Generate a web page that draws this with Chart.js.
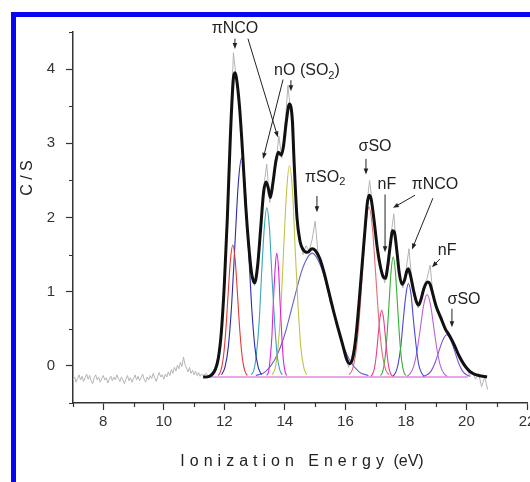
<!DOCTYPE html>
<html>
<head>
<meta charset="utf-8">
<script src="https://cdn.jsdelivr.net/npm/chart.js@4.4.0/dist/chart.umd.min.js"></script>
<style>
html, body { margin: 0; padding: 0; background: #fff; overflow: hidden; }
#wrap { position: relative; width: 530px; height: 482px; overflow: hidden; }
#frame { position: absolute; left: 11px; top: 12px; width: 600px; height: 600px;
         border-left: 5px solid #0606f2; border-top: 5px solid #0606f2; }
#chart { position: absolute; left: 0; top: 0; }
</style>
</head>
<body>
<div id="wrap"><div id="frame"></div><canvas id="chart" width="545" height="482"></canvas></div>
<script>
// axis ranges / tick labels
var xMin = 7, xMax = 22, yMin = -0.5, yMax = 4.5;
var xLabelTicks = [8, 10, 12, 14, 16, 18, 20, 22];
var yLabelTicks = [0, 1, 2, 3, 4];

// raw spectrum (grey), two sampling grids
var rawLowStart = 7.0, rawLowStep = 0.05;
var rawLowCS = [
  -0.20, -0.15, -0.22, -0.17, -0.12, -0.19, -0.14, -0.21, -0.16, -0.11,
  -0.18, -0.13, -0.20, -0.24, -0.16, -0.12, -0.19, -0.15, -0.22, -0.17,
  -0.13, -0.19, -0.16, -0.23, -0.18, -0.14, -0.20, -0.15, -0.19, -0.12,
  -0.17, -0.21, -0.15, -0.19, -0.24, -0.18, -0.13, -0.20, -0.16, -0.22,
  -0.17, -0.12, -0.19, -0.14, -0.20, -0.16, -0.11, -0.18, -0.22, -0.15,
  -0.19, -0.13, -0.17, -0.10, -0.16, -0.21, -0.14, -0.09, -0.15, -0.12,
  -0.18, -0.11, -0.15, -0.08, -0.13, -0.05, -0.10, -0.02, -0.07, 0.01,
  -0.04, 0.05, -0.01, 0.12, 0.02, -0.03, -0.08, -0.02, -0.10, -0.06,
  -0.12, -0.07, -0.13, -0.09, -0.14, -0.11
];
var rawHighStart = 11.3, rawHighStep = 0.1;
var rawHighCS = [
  -0.13, -0.10, -0.15, -0.08, -0.02, 0.14, 0.42, 1.15, 2.05, 3.15,
  4.22, 3.85, 3.55, 2.85, 2.25, 1.60, 1.30, 1.08, 1.40, 1.80,
  2.40, 2.72, 2.20, 2.50, 2.70, 3.10, 2.80, 3.20, 3.78, 3.40,
  2.75, 2.05, 1.72, 1.50, 1.62, 1.55, 1.70, 1.95, 1.50, 1.42,
  1.20, 1.10, 0.85, 0.78, 0.55, 0.48, 0.25, 0.20, -0.02, 0.10,
  0.28, 0.65, 1.10, 1.65, 2.15, 2.50, 2.15, 1.80, 1.50, 1.30,
  1.12, 1.40, 1.75, 2.05, 1.50, 1.20, 1.05, 1.28, 1.58, 1.12,
  0.92, 0.78, 0.92, 1.10, 1.18, 1.36, 0.92, 0.85, 0.66, 0.62,
  0.48, 0.47, 0.34, 0.30, 0.16, 0.12, 0.00, -0.02, -0.12, -0.08,
  -0.18, -0.10, -0.28, -0.15, -0.32
];

// fitted envelope (black)
var fitE = [11.30, 11.50, 11.70, 11.80, 11.90, 12.00, 12.10, 12.20, 12.30, 12.35, 12.40, 12.50, 12.60, 12.70, 12.80, 12.90,
  13.00, 13.10, 13.20, 13.30, 13.38, 13.45, 13.52, 13.60, 13.70, 13.78, 13.88, 13.95, 14.05, 14.15, 14.25, 14.30, 14.40,
  14.50, 14.60, 14.75, 14.90, 15.00, 15.15, 15.30, 15.45, 15.60, 15.75, 15.90, 16.05, 16.15, 16.25, 16.35, 16.45, 16.55,
  16.65, 16.72, 16.78, 16.85, 16.95, 17.05, 17.15, 17.25, 17.32, 17.40, 17.48, 17.56, 17.62, 17.70, 17.78, 17.87, 17.95,
  18.03, 18.08, 18.15, 18.25, 18.35, 18.42, 18.50, 18.60, 18.72, 18.80, 18.90, 19.00, 19.15, 19.30, 19.45, 19.60, 19.75,
  19.90, 20.05, 20.20, 20.40, 20.68];
var fitCS = [-0.15, -0.14, -0.05, 0.10, 0.45, 1.10, 2.00, 3.10, 3.88, 3.95, 3.88, 3.50, 2.90, 2.20, 1.65, 1.25,
  1.12, 1.35, 1.85, 2.35, 2.48, 2.40, 2.27, 2.45, 2.75, 2.88, 2.84, 2.95, 3.30, 3.53, 3.30, 2.80, 2.00,
  1.68, 1.57, 1.53, 1.58, 1.56, 1.45, 1.25, 1.00, 0.75, 0.52, 0.30, 0.08, 0.03, 0.12, 0.40, 0.85, 1.35,
  1.85, 2.18, 2.30, 2.25, 1.95, 1.60, 1.35, 1.20, 1.18, 1.35, 1.62, 1.82, 1.80, 1.55, 1.25, 1.10, 1.15,
  1.28, 1.31, 1.22, 1.02, 0.86, 0.82, 0.90, 1.05, 1.13, 1.10, 0.95, 0.80, 0.65, 0.50, 0.40, 0.28, 0.14,
  0.03, -0.05, -0.10, -0.13, -0.15];

// common baseline of the fit
var baseE = [11.3, 20.05];
var baseCS = [-0.15, -0.15];

// fitted components
var c1E = [11.80, 11.88, 11.96, 12.04, 12.12, 12.20, 12.28, 12.36, 12.44, 12.52, 12.60, 12.68, 12.76];
var c1CS = [-0.13, -0.07, 0.09, 0.43, 0.93, 1.42, 1.63, 1.42, 0.93, 0.43, 0.09, -0.07, -0.13];
var c2E = [11.91, 12.02, 12.13, 12.24, 12.35, 12.46, 12.57, 12.68, 12.79, 12.90, 13.01, 13.12, 13.23];
var c2CS = [-0.12, -0.02, 0.25, 0.81, 1.64, 2.45, 2.80, 2.45, 1.64, 0.81, 0.25, -0.02, -0.12];
var c3E = [12.89, 12.98, 13.06, 13.15, 13.23, 13.32, 13.40, 13.49, 13.57, 13.66, 13.74, 13.83, 13.91];
var c3CS = [-0.12, -0.05, 0.16, 0.59, 1.23, 1.86, 2.13, 1.86, 1.23, 0.59, 0.16, -0.05, -0.12];
var c4E = [13.40, 13.46, 13.51, 13.57, 13.62, 13.68, 13.73, 13.79, 13.84, 13.90, 13.95, 14.01, 14.06];
var c4CS = [-0.13, -0.08, 0.08, 0.39, 0.86, 1.32, 1.52, 1.32, 0.86, 0.39, 0.08, -0.08, -0.13];
var c5E = [13.58, 13.68, 13.77, 13.87, 13.96, 14.06, 14.15, 14.25, 14.34, 14.44, 14.53, 14.63, 14.72];
var c5CS = [-0.12, -0.03, 0.24, 0.78, 1.58, 2.37, 2.70, 2.37, 1.58, 0.78, 0.24, -0.03, -0.12];
var c6E = [13.04, 13.35, 13.66, 13.97, 14.28, 14.59, 14.90, 15.21, 15.52, 15.83, 16.14, 16.45, 16.76];
var c6CS = [-0.13, -0.08, 0.08, 0.39, 0.86, 1.32, 1.52, 1.32, 0.86, 0.39, 0.08, -0.08, -0.13];
var c7E = [16.12, 16.23, 16.34, 16.45, 16.56, 16.67, 16.78, 16.89, 17.00, 17.11, 17.22, 17.33, 17.44];
var c7CS = [-0.12, -0.05, 0.16, 0.59, 1.24, 1.87, 2.14, 1.87, 1.24, 0.59, 0.16, -0.05, -0.12];
var c8E = [16.84, 16.90, 16.96, 17.02, 17.08, 17.14, 17.20, 17.26, 17.32, 17.38, 17.44, 17.50, 17.56];
var c8CS = [-0.14, -0.11, -0.03, 0.14, 0.40, 0.64, 0.75, 0.64, 0.40, 0.14, -0.03, -0.11, -0.14];
var c9E = [17.16, 17.23, 17.30, 17.37, 17.44, 17.51, 17.58, 17.65, 17.72, 17.79, 17.86, 17.93, 18.00];
var c9CS = [-0.13, -0.08, 0.07, 0.38, 0.83, 1.28, 1.47, 1.28, 0.83, 0.38, 0.07, -0.08, -0.13];
var c10E = [17.57, 17.66, 17.74, 17.83, 17.91, 18.00, 18.08, 18.17, 18.25, 18.34, 18.42, 18.51, 18.59];
var c10CS = [-0.14, -0.09, 0.02, 0.26, 0.61, 0.96, 1.11, 0.96, 0.61, 0.26, 0.02, -0.09, -0.14];
var c11E = [18.04, 18.15, 18.26, 18.37, 18.48, 18.59, 18.70, 18.81, 18.92, 19.03, 19.14, 19.25, 19.36];
var c11CS = [-0.14, -0.10, 0.00, 0.21, 0.52, 0.83, 0.96, 0.83, 0.52, 0.21, 0.00, -0.10, -0.14];
var c12E = [18.57, 18.70, 18.83, 18.96, 19.09, 19.22, 19.35, 19.48, 19.61, 19.74, 19.87, 20.00, 20.13];
var c12CS = [-0.14, -0.12, -0.07, 0.04, 0.20, 0.35, 0.42, 0.35, 0.20, 0.04, -0.07, -0.12, -0.14];

// peak labels: text, anchor (eV, C/S) and arrows [x1,y1,x2,y2] in data units
var notes = [
  { parts: [['πNCO']], at: [12.35, 4.55], arrows: [[12.35, 4.41, 12.35, 4.27], [12.78, 4.41, 13.77, 3.08]] },
  { parts: [['nO (SO'], ['2', 1], [')']], at: [14.73, 3.98], arrows: [[14.20, 3.85, 14.20, 3.70], [13.94, 3.86, 13.28, 2.79]] },
  { parts: [['πSO'], ['2', 1]], at: [15.33, 2.54], arrows: [[15.06, 2.29, 15.06, 2.07]] },
  { parts: [['σSO']], at: [16.98, 2.95], arrows: [[16.68, 2.79, 16.68, 2.58]] },
  { parts: [['nF']], at: [17.37, 2.45], arrows: [[17.31, 2.31, 17.31, 1.53]] },
  { parts: [['πNCO']], at: [18.96, 2.45], arrows: [[18.30, 2.30, 17.57, 2.13], [18.89, 2.26, 18.20, 1.57]] },
  { parts: [['nF']], at: [19.36, 1.56], arrows: [[19.12, 1.44, 18.86, 1.33]] },
  { parts: [['σSO']], at: [19.92, 0.90], arrows: [[19.52, 0.77, 19.52, 0.52]] }
];

function pts(es, vs) {
  var out = [];
  for (var i = 0; i < es.length; i++) out.push({ x: es[i], y: vs[i] });
  return out;
}
function gridPts(start, step, vs) {
  var out = [];
  for (var i = 0; i < vs.length; i++) out.push({ x: +(start + i * step).toFixed(2), y: vs[i] });
  return out;
}

var FONT = '"Liberation Sans", Arial, Helvetica, sans-serif';
var comps = [
  [c1E, c1CS, '#e53935'], [c2E, c2CS, '#2b2bb0'], [c3E, c3CS, '#3aa6b9'], [c4E, c4CS, '#e020e0'],
  [c5E, c5CS, '#c2c24a'], [c6E, c6CS, '#6464c8'], [c7E, c7CS, '#e07070'], [c8E, c8CS, '#ec3c8c'],
  [c9E, c9CS, '#33b033'], [c10E, c10CS, '#4a4ad8'], [c11E, c11CS, '#c060d8'], [c12E, c12CS, '#8050e0']
];

var datasets = [];
datasets.push({ data: pts(fitE, fitCS), borderColor: '#111', borderWidth: 3, cubicInterpolationMode: 'monotone', order: 0 });
comps.forEach(function (c) {
  datasets.push({ data: pts(c[0], c[1]), borderColor: c[2], borderWidth: 1.1, cubicInterpolationMode: 'monotone', order: 1 });
});
datasets.push({ data: pts(baseE, baseCS), borderColor: '#d050d0', borderWidth: 1.1, order: 2 });
datasets.push({ data: gridPts(rawLowStart, rawLowStep, rawLowCS).concat(gridPts(rawHighStart, rawHighStep, rawHighCS)),
  borderColor: '#b4b4b4', borderWidth: 1, tension: 0, order: 3 });

function arrow(ctx, x1, y1, x2, y2) {
  var a = Math.atan2(y2 - y1, x2 - x1), L = 6, W = 2.3;
  ctx.beginPath();
  ctx.moveTo(x1, y1);
  ctx.lineTo(x2 - Math.cos(a) * L * 0.8, y2 - Math.sin(a) * L * 0.8);
  ctx.stroke();
  ctx.beginPath();
  ctx.moveTo(x2, y2);
  ctx.lineTo(x2 - Math.cos(a) * L - Math.sin(a) * W, y2 - Math.sin(a) * L + Math.cos(a) * W);
  ctx.lineTo(x2 - Math.cos(a) * L + Math.sin(a) * W, y2 - Math.sin(a) * L - Math.cos(a) * W);
  ctx.closePath();
  ctx.fill();
}

var decor = {
  id: 'decor',
  afterDraw: function (chart) {
    var ctx = chart.ctx, xs = chart.scales.x, ys = chart.scales.y, area = chart.chartArea;
    ctx.save();
    // minor ticks
    ctx.strokeStyle = '#333';
    ctx.lineWidth = 1.2;
    ctx.beginPath();
    xs.ticks.forEach(function (t) {
      if (xLabelTicks.indexOf(t.value) < 0) {
        var px = Math.round(xs.getPixelForValue(t.value)) + 0.5;
        ctx.moveTo(px, area.bottom); ctx.lineTo(px, area.bottom + 4);
      }
    });
    ys.ticks.forEach(function (t) {
      if (yLabelTicks.indexOf(t.value) < 0) {
        var py = Math.round(ys.getPixelForValue(t.value)) + 0.5;
        ctx.moveTo(area.left, py); ctx.lineTo(area.left - 4, py);
      }
    });
    ctx.stroke();

    // axis titles
    ctx.fillStyle = '#222';
    ctx.font = '16px ' + FONT;
    ctx.textBaseline = 'middle';
    ctx.save();
    ctx.translate(28, 178);
    ctx.rotate(-Math.PI / 2);
    ctx.textAlign = 'center';
    ctx.fillText('C / S', 0, 0);
    ctx.restore();

    ctx.textAlign = 'left';
    ctx.letterSpacing = '5px';
    var t1 = 'Ionization Energy';
    var w1 = ctx.measureText(t1).width;
    ctx.letterSpacing = '0px';
    var t2 = ' (eV)';
    var w2 = ctx.measureText(t2).width;
    var sx = 302 - (w1 + w2) / 2;
    ctx.letterSpacing = '5px';
    ctx.fillText(t1, sx, 462);
    ctx.letterSpacing = '0px';
    ctx.fillText(t2, sx + w1, 462);

    // peak labels and arrows
    ctx.strokeStyle = '#222';
    ctx.fillStyle = '#222';
    ctx.lineWidth = 1;
    notes.forEach(function (n) {
      var total = 0;
      n.parts.forEach(function (p) {
        ctx.font = (p[1] ? '11px ' : '16px ') + FONT;
        total += ctx.measureText(p[0]).width;
      });
      var x = xs.getPixelForValue(n.at[0]) - total / 2, y = ys.getPixelForValue(n.at[1]);
      n.parts.forEach(function (p) {
        ctx.font = (p[1] ? '11px ' : '16px ') + FONT;
        ctx.fillText(p[0], x, p[1] ? y + 5 : y);
        x += ctx.measureText(p[0]).width;
      });
      n.arrows.forEach(function (a) {
        arrow(ctx, xs.getPixelForValue(a[0]), ys.getPixelForValue(a[1]), xs.getPixelForValue(a[2]), ys.getPixelForValue(a[3]));
      });
    });
    ctx.restore();
  }
};

var tickFont = { family: FONT, size: 15 };

new Chart(document.getElementById('chart'), {
  type: 'line',
  data: { datasets: datasets },
  options: {
    responsive: false,
    animation: false,
    layout: { padding: { left: 0, top: 32, right: 18, bottom: 0 } },
    elements: { point: { radius: 0 }, line: { fill: false } },
    plugins: { legend: { display: false }, tooltip: { enabled: false } },
    scales: {
      x: {
        type: 'linear', min: xMin, max: xMax,
        ticks: {
          stepSize: 1, autoSkip: false, maxRotation: 0, padding: 3, color: '#333', font: tickFont,
          callback: function (v) { return xLabelTicks.indexOf(v) >= 0 ? String(v) : ''; }
        },
        grid: {
          drawOnChartArea: false, drawTicks: true, tickLength: 7, tickWidth: 1.2,
          tickColor: function (c) { return c.tick && xLabelTicks.indexOf(c.tick.value) >= 0 ? '#333' : 'rgba(0,0,0,0)'; }
        },
        border: { color: '#333', width: 1.5 },
        afterFit: function (s) { s.height = 79; }
      },
      y: {
        type: 'linear', min: yMin, max: yMax,
        ticks: {
          stepSize: 0.5, padding: 11, color: '#333', font: tickFont,
          callback: function (v) { return yLabelTicks.indexOf(v) >= 0 ? String(v) : ''; }
        },
        grid: {
          drawOnChartArea: false, drawTicks: true, tickLength: 7, tickWidth: 1.2,
          tickColor: function (c) { return c.tick && yLabelTicks.indexOf(c.tick.value) >= 0 ? '#333' : 'rgba(0,0,0,0)'; }
        },
        border: { color: '#333', width: 1.5 },
        afterFit: function (s) { s.width = 73; }
      }
    }
  },
  plugins: [decor]
});
</script>
</body>
</html>
